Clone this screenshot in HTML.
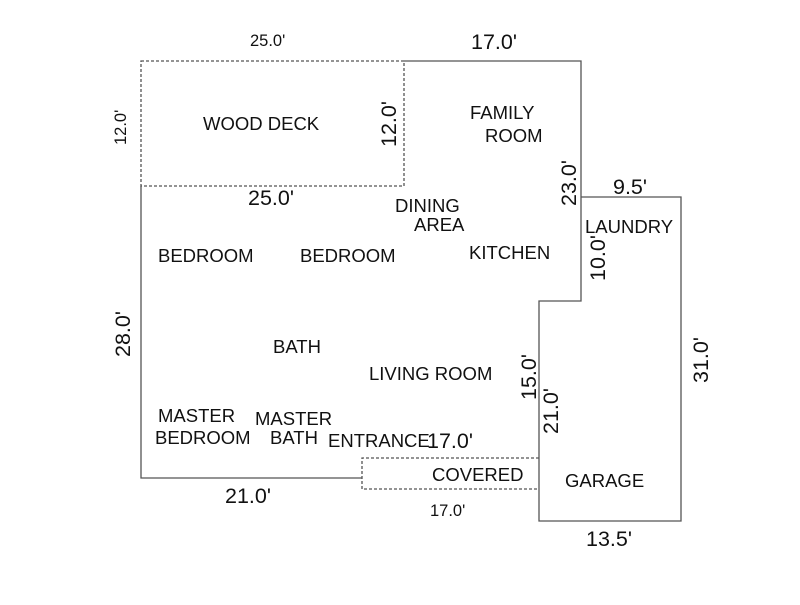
<!DOCTYPE html>
<html><head><style>
body{margin:0;background:#fff}
svg text{font-family:"Liberation Sans",sans-serif;fill:#111}
</style></head><body>
<svg width="800" height="600" xmlns="http://www.w3.org/2000/svg">
<g fill="none" stroke="#555" stroke-width="1.3">
<rect x="141" y="61" width="263" height="125" stroke-dasharray="3,2"/>
<polyline points="404,61 581,61 581,301 539,301 539,521 681,521 681,197 581,197"/>
<polyline points="141,186 141,478 362,478"/>
<polyline points="539,458 362,458 362,489 539,489" stroke-dasharray="3,2"/>
</g>
<g font-size="18.5">
<text x="203" y="130">WOOD DECK</text>
<text x="470" y="119">FAMILY</text>
<text x="485" y="142">ROOM</text>
<text x="395" y="212">DINING</text>
<text x="414" y="231">AREA</text>
<text x="158" y="262">BEDROOM</text>
<text x="300" y="262">BEDROOM</text>
<text x="469" y="259">KITCHEN</text>
<text x="585" y="233">LAUNDRY</text>
<text x="273" y="353">BATH</text>
<text x="369" y="380">LIVING ROOM</text>
<text x="158" y="422">MASTER</text>
<text x="155" y="444">BEDROOM</text>
<text x="255" y="425">MASTER</text>
<text x="270" y="444">BATH</text>
<text x="328" y="447">ENTRANCE</text>
<text x="432" y="481">COVERED</text>
<text x="565" y="487">GARAGE</text>
</g>
<g font-size="16.5">
<text x="250" y="46">25.0'</text>
<text x="430" y="516">17.0'</text>
<text transform="translate(126,145) rotate(-90)">12.0'</text>
</g>
<g font-size="21.5">
<text x="471" y="49">17.0'</text>
<text x="248" y="205">25.0'</text>
<text x="613" y="194">9.5'</text>
<text x="427" y="448">17.0'</text>
<text x="225" y="503">21.0'</text>
<text x="586" y="546">13.5'</text>
<text transform="translate(396,147) rotate(-90)">12.0'</text>
<text transform="translate(576,206) rotate(-90)">23.0'</text>
<text transform="translate(605,281) rotate(-90)">10.0'</text>
<text transform="translate(130,357) rotate(-90)">28.0'</text>
<text transform="translate(536,400) rotate(-90)">15.0'</text>
<text transform="translate(558,434) rotate(-90)">21.0'</text>
<text transform="translate(708,383) rotate(-90)">31.0'</text>
</g>
</svg>
</body></html>
